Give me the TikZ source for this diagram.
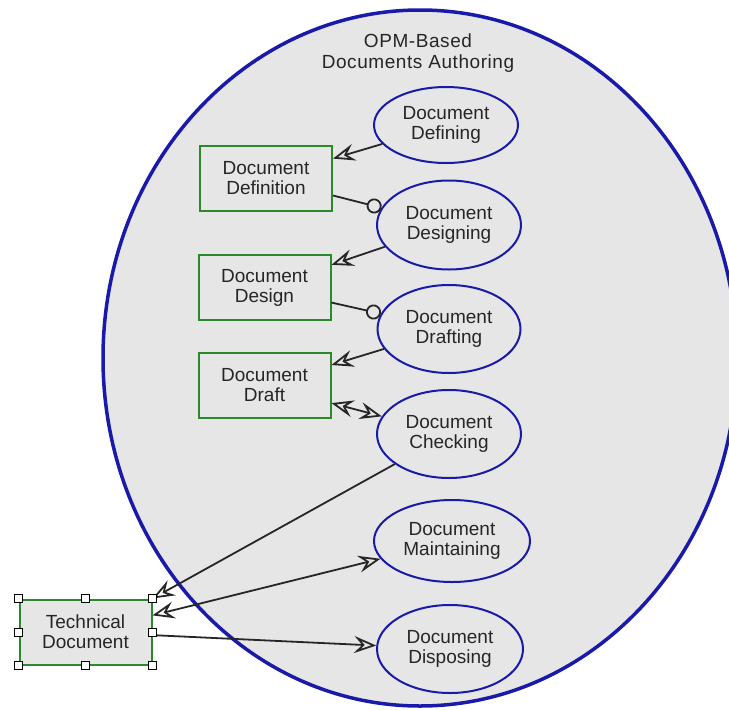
\documentclass[tikz,border=0pt]{standalone}
\usepackage{fontspec}
\setmainfont{Liberation Sans}
\newfontfamily\titlefont{Liberation Sans}[LetterSpace=3]
\usetikzlibrary{shapes.geometric,arrows.meta}
\definecolor{opmgrey}{HTML}{E6E6E6}
\definecolor{opmblue}{HTML}{1A1AAA}
\definecolor{opmgreen}{HTML}{2A8A2A}
\begin{document}
\begin{tikzpicture}
[x=1pt, y=-1pt,
  processdecorate/.style={shape=ellipse,inner sep=0pt,draw=opmblue,line width=2pt,
    fill=opmgrey,align=center,text=black!85,font=\fontsize{19}{20}\selectfont},
  objectdecorate/.style={shape=rectangle,inner sep=0pt,draw=opmgreen,line width=2pt,
    fill=opmgrey,minimum width=132pt,minimum height=65pt,align=center,
    text=black!85,font=\fontsize{19}{20}\selectfont},
  handledecorate/.style={shape=rectangle,inner sep=0pt,minimum size=8pt,draw=black,
    fill=white,line width=1pt},
  linedecorate/.style={-,line width=1.8pt,draw=black!85},
  resultlink/.style={-{Stealth[open,length=22pt,width=17pt,inset=8pt]}},
  effectlink/.style={{Stealth[open,length=22pt,width=17pt,inset=8pt]}-{Stealth[open,length=22pt,width=17pt,inset=8pt]}},
  instrumentlink/.style={-{Circle[open,length=15pt]}}]
\useasboundingbox (0,0) rectangle (729,710);
%% the system process
\node (authoring) at (420,358) [shape=ellipse,minimum width=634pt,minimum height=696pt,
  draw=opmblue,line width=3.5pt,fill=opmgrey] {};
\node (title) at (418,53) [align=center,text=black!85,
  font=\titlefont\fontsize{19}{20.5}\selectfont] {OPM-Based\\Documents Authoring};
%% processes
\foreach \nodename/\x/\y/\w/\h/\txt in {defining/446/125/144/76/Defining,
  designing/449/225/144/89/Designing, drafting/449/329/143/88/Drafting,
  checking/449/434/144/88/Checking, maintaining/452/541/156/82/Maintaining,
  disposing/450/649/146/88/Disposing}
{
  \node (\nodename) at (\x,\y) [processdecorate,minimum width=\w,minimum height=\h]
    {Document\\\txt};
}
%% objects
\foreach \nodename/\x/\y/\txt in {definition/266/178.5/{Document\\Definition},
  design/264.5/287.5/{Document\\Design}, draft/264.5/385.5/{Document\\Draft},
  td/85.5/632/{Technical\\Document}}
{
  \node (\nodename) at (\x,\y) [objectdecorate] {\txt};
}
%% links
\path
\foreach \startnode/\endnode/\linkstyle in {defining/definition/resultlink,
  definition/designing/instrumentlink, designing/design/resultlink,
  design/drafting/instrumentlink, drafting/draft/resultlink,
  draft/checking/effectlink, checking/td.north east/resultlink,
  td/maintaining/effectlink, td/disposing/resultlink}
{
  (\startnode) edge[linedecorate,\linkstyle] (\endnode)
};
%% selection handles
\foreach \anchor [count=\i] in {north west, north, north east, east, south east,
  south, south west, west}
{
  \node (handle\i) at (td.\anchor) [handledecorate] {};
}
\end{tikzpicture}
\end{document}
